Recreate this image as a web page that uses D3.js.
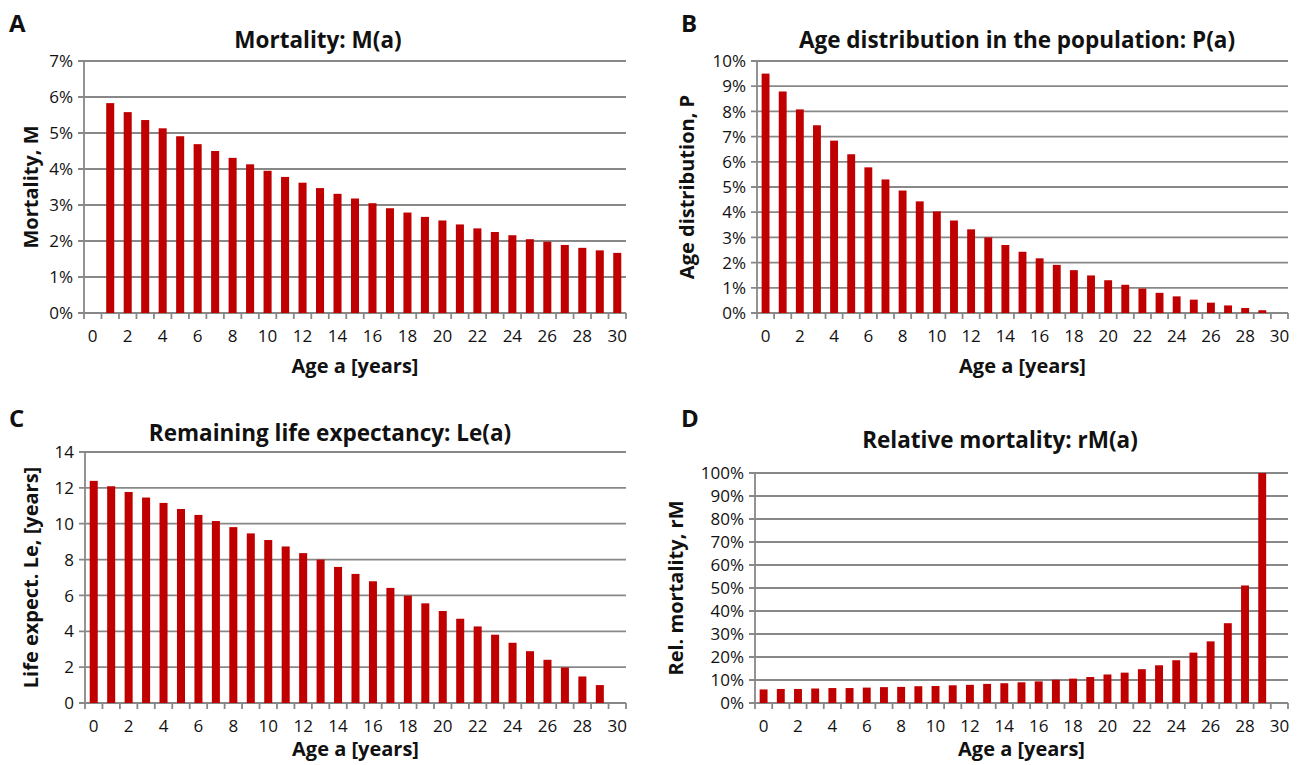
<!DOCTYPE html>
<html>
<head>
<meta charset="utf-8">
<script src="https://cdn.jsdelivr.net/npm/d3@7"></script>
<style>
  body { margin: 0; background: #fff; }
  svg text { font-family: "Open Sans", "Noto Sans", sans-serif; fill: #111; }
</style>
</head>
<body>
<div id="chart"></div>
<script>
var
  width = 1303,
  height = 765;

// ages shown on the category axis
var ages = d3.range(0, 31);
var ageTicks = d3.range(0, 31, 2);

// A: mortality M(a), ages 1..30
var mortalityAges = d3.range(1, 31);
var mortality = [5.83, 5.58, 5.36, 5.13, 4.91, 4.69, 4.50, 4.31, 4.13, 3.95,
  3.78, 3.62, 3.47, 3.31, 3.18, 3.05, 2.91, 2.79, 2.67, 2.57,
  2.46, 2.35, 2.25, 2.16, 2.05, 1.98, 1.89, 1.81, 1.74, 1.67];

// B: age distribution P(a), ages 0..29
var popAges = d3.range(0, 30);
var population = [9.50, 8.79, 8.08, 7.45, 6.84, 6.30, 5.78, 5.30, 4.86, 4.43,
  4.03, 3.67, 3.32, 3.00, 2.70, 2.43, 2.17, 1.91, 1.70, 1.49,
  1.30, 1.12, 0.97, 0.80, 0.66, 0.53, 0.41, 0.30, 0.20, 0.11];

// C: remaining life expectancy Le(a), ages 0..29
var lifeAges = d3.range(0, 30);
var lifeExp = [12.39, 12.09, 11.77, 11.46, 11.16, 10.82, 10.49, 10.15, 9.81, 9.46,
  9.09, 8.73, 8.36, 8.00, 7.59, 7.20, 6.79, 6.42, 5.99, 5.56,
  5.13, 4.70, 4.27, 3.81, 3.36, 2.89, 2.41, 1.98, 1.48, 1.00];

// D: relative mortality rM(a), ages 0..29
var relAges = d3.range(0, 30);
var relMortality = [5.9, 6.1, 6.1, 6.3, 6.5, 6.5, 6.7, 6.9, 7.0, 7.3,
  7.4, 7.7, 7.9, 8.3, 8.6, 9.0, 9.4, 10.1, 10.6, 11.3,
  12.4, 13.2, 14.7, 16.4, 18.6, 21.9, 26.8, 34.7, 51.1, 100];

var svg = d3.select("#chart")
  .append("svg")
  .attr("width", width)
  .attr("height", height);

var gridColor = "#888888",
  barColor = "#c00000";

function drawPanel(p) {
  var g = svg.append("g");

  var x = d3.scaleBand()
    .domain(ages)
    .range([p.left, p.right]);

  var y = d3.scaleLinear()
    .domain([0, p.max])
    .range([p.bottom, p.top]);

  var yTicks = d3.range(0, p.max + p.step / 2, p.step);

  // gridlines + outer ticks
  g.selectAll(".grid")
    .data(yTicks)
    .enter().append("line")
    .attr("x1", p.left - 6)
    .attr("x2", p.right)
    .attr("y1", function(d) { return y(d); })
    .attr("y2", function(d) { return y(d); })
    .attr("stroke", gridColor)
    .attr("stroke-width", 1.8);

  // y axis line
  g.append("line")
    .attr("x1", p.left).attr("x2", p.left)
    .attr("y1", p.top).attr("y2", p.bottom)
    .attr("stroke", gridColor)
    .attr("stroke-width", 1.8);

  // x tick marks between categories
  var bounds = ages.map(function(a) { return x(a); }).concat([p.right]);
  g.selectAll(".xt")
    .data(bounds)
    .enter().append("line")
    .attr("x1", function(d) { return d; })
    .attr("x2", function(d) { return d; })
    .attr("y1", p.bottom)
    .attr("y2", p.bottom + 6)
    .attr("stroke", gridColor)
    .attr("stroke-width", 1.8);

  // bars
  var bw = x.bandwidth() * 0.46;
  g.selectAll(".bar")
    .data(p.values)
    .enter().append("rect")
    .attr("x", function(d, i) { return x(p.ages[i]) + x.bandwidth() / 2 - bw / 2; })
    .attr("y", function(d) { return y(d); })
    .attr("width", bw)
    .attr("height", function(d) { return p.bottom - y(d); })
    .attr("fill", barColor);

  // y tick labels
  g.selectAll(".yl")
    .data(yTicks)
    .enter().append("text")
    .attr("x", p.left - 11)
    .attr("y", function(d) { return y(d); })
    .attr("dy", "0.36em")
    .attr("text-anchor", "end")
    .style("font-size", "17px")
    .text(function(d) { return p.fmt(d); });

  // x tick labels
  g.selectAll(".xl")
    .data(ageTicks)
    .enter().append("text")
    .attr("x", function(d) { return x(d) + x.bandwidth() / 2; })
    .attr("y", p.bottom + 29)
    .attr("text-anchor", "middle")
    .style("font-size", "17px")
    .text(function(d) { return d; });

  // titles
  g.append("text")
    .attr("x", p.titleX)
    .attr("y", p.titleY)
    .attr("text-anchor", "middle")
    .style("font-size", "22.5px")
    .style("font-weight", "bold")
    .text(p.title);

  g.append("text")
    .attr("x", (p.left + p.right) / 2)
    .attr("y", p.bottom + p.xTitleDy)
    .attr("text-anchor", "middle")
    .style("font-size", "20px")
    .style("font-weight", "bold")
    .text("Age a [years]");

  g.append("text")
    .attr("transform", "translate(" + p.yTitleX + "," + ((p.top + p.bottom) / 2) + ") rotate(-90)")
    .attr("text-anchor", "middle")
    .style("font-size", "20px")
    .style("font-weight", "bold")
    .text(p.yTitle);

  g.append("text")
    .attr("x", p.letterX)
    .attr("y", p.letterY)
    .style("font-size", "24px")
    .style("font-weight", "bold")
    .text(p.letter);
}

var pct = function(d) { return d3.format(".0f")(d) + "%"; };

drawPanel({
  letter: "A", letterX: 9, letterY: 32,
  title: "Mortality: M(a)", titleX: 318, titleY: 48,
  yTitle: "Mortality, M", yTitleX: 38,
  left: 84, right: 626, top: 61, bottom: 313, xTitleDy: 60,
  max: 7, step: 1, fmt: pct,
  ages: mortalityAges, values: mortality
});

drawPanel({
  letter: "B", letterX: 681, letterY: 32,
  title: "Age distribution in the population: P(a)", titleX: 1017, titleY: 48,
  yTitle: "Age distribution, P", yTitleX: 694,
  left: 757, right: 1288, top: 61, bottom: 313, xTitleDy: 60,
  max: 10, step: 1, fmt: pct,
  ages: popAges, values: population
});

drawPanel({
  letter: "C", letterX: 9, letterY: 427,
  title: "Remaining life expectancy: Le(a)", titleX: 330, titleY: 441,
  yTitle: "Life expect. Le, [years]", yTitleX: 38,
  left: 85, right: 626, top: 452, bottom: 703, xTitleDy: 53,
  max: 14, step: 2, fmt: function(d) { return d; },
  ages: lifeAges, values: lifeExp
});

drawPanel({
  letter: "D", letterX: 681, letterY: 427,
  title: "Relative mortality: rM(a)", titleX: 1000, titleY: 448,
  yTitle: "Rel. mortality, rM", yTitleX: 683,
  left: 755, right: 1288, top: 473, bottom: 703, xTitleDy: 53,
  max: 100, step: 10, fmt: pct,
  ages: relAges, values: relMortality
});
</script>
</body>
</html>
